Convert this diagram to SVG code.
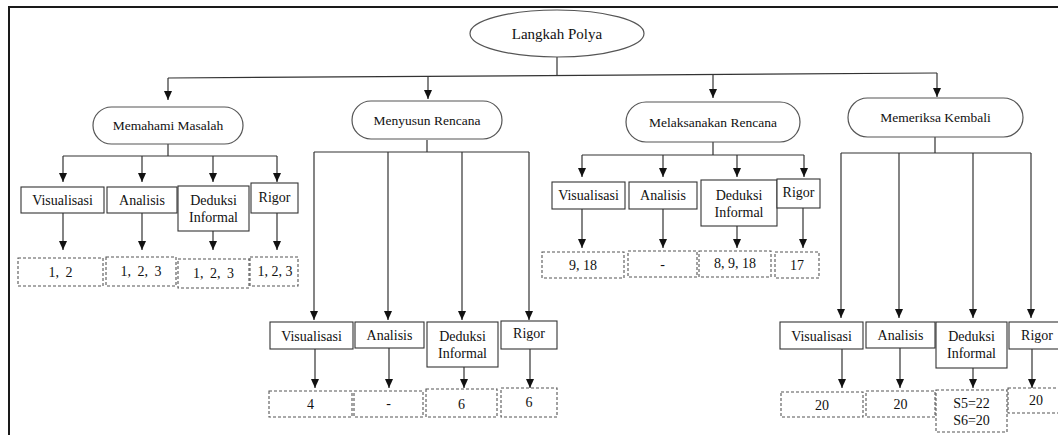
<svg xmlns="http://www.w3.org/2000/svg" width="1058" height="435" viewBox="0 0 1058 435">
<style>
text{font-family:"Liberation Serif","Times New Roman",serif;fill:#111;text-anchor:middle}
.lbl{font-size:14px}
.top{font-size:15px}
.stp{font-size:13.5px}
.wide{word-spacing:3px}
.node{fill:#fff;stroke:#555;stroke-width:1.2}
.box{fill:#fff;stroke:#333;stroke-width:1.1}
.val{fill:#fff;stroke:#555;stroke-width:1.1;stroke-dasharray:3 2}
.ln{fill:none;stroke:#333;stroke-width:1.2}
.ar{fill:none;stroke:#333;stroke-width:1.2;marker-end:url(#ah)}
</style>
<defs>
<marker id="ah" viewBox="0 0 9 8" refX="9" refY="4" markerWidth="9" markerHeight="8" markerUnits="userSpaceOnUse" orient="auto" preserveAspectRatio="none">
<path d="M0,0 L9,4 L0,8 Z" fill="#111"/>
</marker>
</defs>
<rect width="1058" height="435" fill="#fff"/>
<path d="M9,435 V7 H1058" fill="none" stroke="#1a1a1a" stroke-width="2"/>

<g id="connectors">
<path class="ln" d="M557,57 V75.5"/>
<path class="ln" d="M168,78 L937,73"/>
<path class="ar" d="M168,78 V100"/>
<path class="ar" d="M428,76.3 V99"/>
<path class="ar" d="M713,74.5 V98"/>
<path class="ar" d="M937,73 V97"/>

<path class="ln" d="M168,144 V156 M63,156 H277"/>
<path class="ar" d="M63,156 V182"/>
<path class="ar" d="M142,156 V182"/>
<path class="ar" d="M213,156 V182"/>
<path class="ar" d="M277,156 V182"/>
<path class="ar" d="M63,213 V250"/>
<path class="ar" d="M142,213 V250"/>
<path class="ar" d="M213,231 V250"/>
<path class="ar" d="M277,213 V250"/>

<path class="ln" d="M427,140 V152 M314,152 H529"/>
<path class="ar" d="M314,152 V320"/>
<path class="ar" d="M388,152 V320"/>
<path class="ar" d="M462,152 V320"/>
<path class="ar" d="M529,152 V320"/>
<path class="ar" d="M315,349 V388"/>
<path class="ar" d="M389,348 V388"/>
<path class="ar" d="M464,367 V388"/>
<path class="ar" d="M530,349 V388"/>

<path class="ln" d="M713,142 V155 M582,155 H804"/>
<path class="ar" d="M582,155 V177"/>
<path class="ar" d="M663,155 V177"/>
<path class="ar" d="M737,155 V177"/>
<path class="ar" d="M804,155 V177"/>
<path class="ar" d="M582,209 V248"/>
<path class="ar" d="M663,209 V248"/>
<path class="ar" d="M737,226 V248"/>
<path class="ar" d="M803,208 V248"/>

<path class="ln" d="M935,137 V153 M841,153 H1031"/>
<path class="ar" d="M841,153 V318"/>
<path class="ar" d="M899,153 V318"/>
<path class="ar" d="M973,153 V318"/>
<path class="ar" d="M1031,153 V318"/>
<path class="ar" d="M842,349 V388"/>
<path class="ar" d="M900,348 V388"/>
<path class="ar" d="M973,368 V388"/>
<path class="ar" d="M1032,349 V388"/>
</g>

<g id="langkah-polya">
<ellipse class="node" cx="557" cy="33.5" rx="87" ry="23.5"/>
<text class="top" x="557" y="39">Langkah Polya</text>
</g>

<g id="memahami-masalah">
<rect class="node" x="93" y="107" width="150" height="37" rx="18.5"/>
<text class="stp" x="168" y="130">Memahami Masalah</text>
</g>
<g id="menyusun-rencana">
<rect class="node" x="352" y="101" width="150" height="38" rx="19"/>
<text class="stp" x="427" y="124.5">Menyusun Rencana</text>
</g>
<g id="melaksanakan-rencana">
<rect class="node" x="626" y="102" width="174" height="40" rx="20"/>
<text class="stp" x="713" y="126.5">Melaksanakan Rencana</text>
</g>
<g id="memeriksa-kembali">
<rect class="node" x="848" y="98" width="175" height="39" rx="19.5"/>
<text class="stp" x="935.5" y="122">Memeriksa Kembali</text>
</g>

<!-- Memahami Masalah children -->
<g id="mm-visualisasi"><rect class="box" x="21" y="187" width="83" height="26"/><text class="lbl" x="62.5" y="205">Visualisasi</text></g>
<g id="mm-analisis"><rect class="box" x="107" y="187" width="70" height="26"/><text class="lbl" x="142" y="205">Analisis</text></g>
<g id="mm-deduksi"><rect class="box" x="178" y="186" width="71" height="45"/><text class="lbl" x="213.5" y="205">Deduksi</text><text class="lbl" x="213.5" y="222">Informal</text></g>
<g id="mm-rigor"><rect class="box" x="251" y="183" width="47" height="30"/><text class="lbl" x="274.5" y="202">Rigor</text></g>
<g id="mm-v-val"><rect class="val" x="18" y="258" width="85" height="28"/><text class="lbl wide" x="60.5" y="277">1, 2</text></g>
<g id="mm-a-val"><rect class="val" x="106" y="257" width="70" height="29"/><text class="lbl wide" x="141" y="276">1, 2, 3</text></g>
<g id="mm-d-val"><rect class="val" x="178" y="259" width="71" height="29"/><text class="lbl wide" x="213.5" y="278">1, 2, 3</text></g>
<g id="mm-r-val"><rect class="val" x="250" y="257" width="48" height="29"/><text class="lbl" x="275" y="276">1, 2, 3</text></g>

<!-- Menyusun Rencana children -->
<g id="mr-visualisasi"><rect class="box" x="270" y="322" width="83" height="27"/><text class="lbl" x="311.5" y="341">Visualisasi</text></g>
<g id="mr-analisis"><rect class="box" x="355" y="322" width="69" height="26"/><text class="lbl" x="389.5" y="340">Analisis</text></g>
<g id="mr-deduksi"><rect class="box" x="427" y="322" width="71" height="45"/><text class="lbl" x="462.5" y="341">Deduksi</text><text class="lbl" x="462.5" y="358">Informal</text></g>
<g id="mr-rigor"><rect class="box" x="501" y="321" width="56" height="28"/><text class="lbl" x="529" y="338">Rigor</text></g>
<g id="mr-v-val"><rect class="val" x="269" y="391" width="83" height="26"/><text class="lbl" x="310.5" y="409">4</text></g>
<g id="mr-a-val"><rect class="val" x="354" y="391" width="69" height="26"/><text class="lbl" x="388.5" y="408">-</text></g>
<g id="mr-d-val"><rect class="val" x="426" y="389" width="71" height="28"/><text class="lbl" x="461.5" y="409">6</text></g>
<g id="mr-r-val"><rect class="val" x="501" y="388" width="56" height="29"/><text class="lbl" x="529" y="407">6</text></g>

<!-- Melaksanakan Rencana children -->
<g id="ml-visualisasi"><rect class="box" x="552" y="182" width="73" height="27"/><text class="lbl" x="588.5" y="200">Visualisasi</text></g>
<g id="ml-analisis"><rect class="box" x="629" y="182" width="68" height="27"/><text class="lbl" x="663" y="200">Analisis</text></g>
<g id="ml-deduksi"><rect class="box" x="701" y="180" width="76" height="46"/><text class="lbl" x="739" y="200">Deduksi</text><text class="lbl" x="739" y="217">Informal</text></g>
<g id="ml-rigor"><rect class="box" x="777" y="179" width="43" height="29"/><text class="lbl" x="798.5" y="197">Rigor</text></g>
<g id="ml-v-val"><rect class="val" x="542" y="252" width="82" height="26"/><text class="lbl" x="583" y="270">9, 18</text></g>
<g id="ml-a-val"><rect class="val" x="628" y="251" width="69" height="26"/><text class="lbl" x="662.5" y="269">-</text></g>
<g id="ml-d-val"><rect class="val" x="699" y="251" width="72" height="26"/><text class="lbl" x="735" y="268">8, 9, 18</text></g>
<g id="ml-r-val"><rect class="val" x="775" y="252" width="44" height="26"/><text class="lbl" x="797" y="270">17</text></g>

<!-- Memeriksa Kembali children -->
<g id="mk-visualisasi"><rect class="box" x="780" y="322" width="83" height="27"/><text class="lbl" x="821.5" y="341">Visualisasi</text></g>
<g id="mk-analisis"><rect class="box" x="866" y="322" width="69" height="26"/><text class="lbl" x="900.5" y="340">Analisis</text></g>
<g id="mk-deduksi"><rect class="box" x="936" y="322" width="71" height="46"/><text class="lbl" x="971.5" y="341">Deduksi</text><text class="lbl" x="971.5" y="358">Informal</text></g>
<g id="mk-rigor"><rect class="box" x="1009" y="322" width="56" height="27"/><text class="lbl" x="1037" y="340">Rigor</text></g>
<g id="mk-v-val"><rect class="val" x="781" y="392" width="82" height="25"/><text class="lbl" x="822" y="410">20</text></g>
<g id="mk-a-val"><rect class="val" x="866" y="391" width="69" height="26"/><text class="lbl" x="900.5" y="409">20</text></g>
<g id="mk-d-val"><rect class="val" x="936" y="390" width="71" height="42"/><text class="lbl" x="971.5" y="408">S5=22</text><text class="lbl" x="971.5" y="425">S6=20</text></g>
<g id="mk-r-val"><rect class="val" x="1008" y="388" width="56" height="25"/><text class="lbl" x="1036" y="405">20</text></g>
</svg>
